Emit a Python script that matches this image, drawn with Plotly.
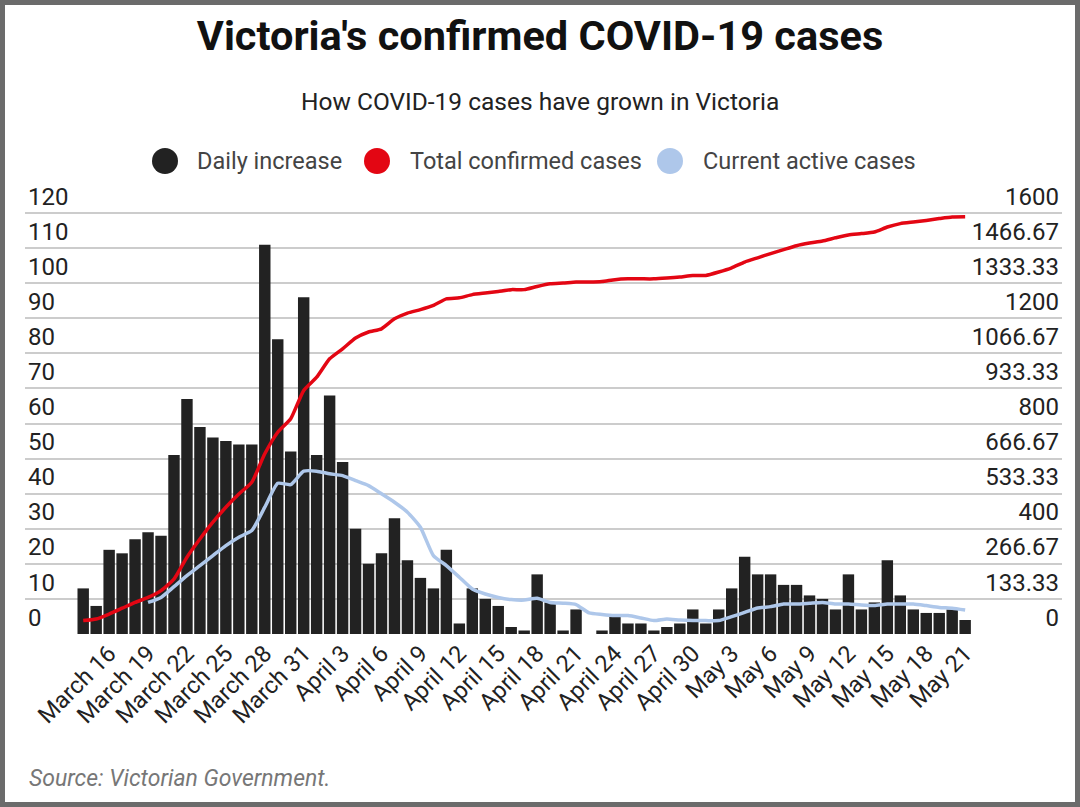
import pandas as pd
import plotly.graph_objects as go

# ---------------- data ----------------
dates = [d.strftime("%B ") + str(d.day) for d in pd.date_range("2020-03-14", "2020-05-21", freq="D")]

daily_increase = [13, 8, 24, 23, 27, 29, 28, 51, 67, 59, 56, 55, 54, 54, 111, 84, 52, 96, 51, 68, 49, 30,
                  20, 23, 33, 21, 16, 13, 24, 3, 13, 10, 8, 2, 1, 17, 9, 1, 7, 0, 1, 5, 3, 3, 1,
                  2, 3, 7, 3, 7, 13, 22, 17, 17, 14, 14, 11, 10, 7, 17, 7, 9, 21, 11, 7, 6, 6, 7, 4]

total_confirmed = [51, 57, 76, 98, 120, 139, 165, 209, 292, 361, 425, 482, 532, 577, 685, 767, 818, 926, 976, 1046, 1084, 1125,
                   1148, 1160, 1198, 1220, 1233, 1249, 1274, 1278, 1290, 1296, 1302, 1309, 1309, 1321, 1331, 1334, 1338, 1338, 1340, 1347, 1350, 1350, 1350,
                   1353, 1357, 1363, 1363, 1376, 1392, 1414, 1430, 1446, 1461, 1476, 1486, 1494, 1506, 1517, 1522, 1528, 1547, 1560, 1566, 1572, 1579, 1585, 1586]

active_cases = [None, None, None, None, None,
                120, 139, 180, 222, 260, 298, 336, 368, 393, 482, 573, 568, 619, 619, 609, 602, 583,
                564, 533, 501, 463, 406, 298, 260, 216, 171, 152, 139, 131, 129, 136, 120, 117, 112, 80, 74, 70, 70, 61, 51,
                57, 53, 51, 51, 51, 66, 82, 99, 104, 114, 114, 117, 120, 114, 114, 110, 108, 114, 114, 114, 108, 101, 98, 91]

tick_dates = dates[2::3]
left_ticks = list(range(0, 121, 10))
right_tickvals = [i * 1600 / 12 for i in range(13)]
right_ticktext = ["0", "133.33", "266.67", "400", "533.33", "666.67", "800", "933.33",
                  "1066.67", "1200", "1333.33", "1466.67", "1600"]

series_names = ["Daily increase", "Total confirmed cases", "Current active cases"]
series_colors = ["#222222", "#e30613", "#aec7ea"]

# ---------------- layout geometry ----------------
W, H = 1080, 807
BASE_Y = 634            # pixel row of the zero line
TOP120_Y = 213          # pixel row of the 120 gridline
Y_MAX = 130             # axis headroom so the top tick label stays visible
px_per_unit = (BASE_Y - TOP120_Y) / 120
ML, MR = 25, 18
MB = H - BASE_Y
MT = round(BASE_Y - Y_MAX * px_per_unit)
PW, PH = W - ML - MR, H - MT - MB


def px_x(x):
    return (x - ML) / PW


def px_y(y):
    return (H - MB - y) / PH


FONT = "Roboto, Arial, sans-serif"

fig = go.Figure()
fig.add_trace(go.Bar(x=dates, y=daily_increase, name=series_names[0],
                     marker=dict(color=series_colors[0], line=dict(width=0)),
                     showlegend=False, yaxis="y"))
fig.add_trace(go.Scatter(x=dates, y=active_cases, name=series_names[2], mode="lines",
                         line=dict(color=series_colors[2], width=3.5, shape="spline", smoothing=0.5),
                         showlegend=False, yaxis="y2"))
fig.add_trace(go.Scatter(x=dates, y=total_confirmed, name=series_names[1], mode="lines",
                         line=dict(color=series_colors[1], width=3.5, shape="spline", smoothing=0.5),
                         showlegend=False, yaxis="y2"))

shapes = []
annotations = []
# manual legend
legend_cx = [165, 377, 670]
legend_tx = [195, 408, 701]
legend_y = 161
for name, col, cx, tx in zip(series_names, series_colors, legend_cx, legend_tx):
    shapes.append(dict(type="circle", xref="paper", yref="paper", xsizemode="pixel", ysizemode="pixel",
                       xanchor=px_x(cx), yanchor=px_y(legend_y), x0=-13, x1=13, y0=-13, y1=13,
                       fillcolor=col, line=dict(width=0)))
    annotations.append(dict(text=name, xref="paper", yref="paper", x=px_x(tx), y=px_y(legend_y),
                            xanchor="left", yanchor="middle", showarrow=False,
                            font=dict(family=FONT, size=23.5, color="#444444")))

# subtitle
annotations.append(dict(text="How COVID-19 cases have grown in Victoria", xref="paper", yref="paper",
                        x=px_x(540), y=px_y(102), xanchor="center", yanchor="middle", showarrow=False,
                        font=dict(family=FONT, size=24.5, color="#222222")))
# source
annotations.append(dict(text="<i>Source: Victorian Government.</i>", xref="paper", yref="paper",
                        x=px_x(27), y=px_y(778), xanchor="left", yanchor="middle", showarrow=False,
                        font=dict(family=FONT, size=23, color="#777777")))
# frame
shapes.append(dict(type="rect", xref="paper", yref="paper",
                   x0=px_x(2.5), x1=px_x(W - 2.5), y0=px_y(H - 2.5), y1=px_y(2.5),
                   line=dict(color="#6b6b6b", width=5), fillcolor="rgba(0,0,0,0)", layer="above"))

pitch = 12.97
first_center = 83.2
x_left = -(first_center - ML) / pitch
x_right = (W - MR - first_center) / pitch

fig.update_layout(
    width=W, height=H,
    margin=dict(l=ML, r=MR, t=MT, b=MB, pad=0),
    paper_bgcolor="white", plot_bgcolor="white",
    title=dict(text="Victoria's confirmed COVID-19 cases", x=0.5, xref="container", xanchor="center",
               y=1 - 35 / H, yref="container", yanchor="middle",
               font=dict(family=FONT, size=41.5, color="#111111", weight="bold")),
    bargap=0.12,
    showlegend=False,
    xaxis=dict(type="category", range=[x_left, x_right], tickmode="array", tickvals=tick_dates,
               ticktext=tick_dates, tickangle=-45, showgrid=False, showline=False, zeroline=False,
               ticks="", tickfont=dict(family=FONT, size=23.5, color="#222222")),
    yaxis=dict(range=[0, Y_MAX], tickmode="array", tickvals=left_ticks, showgrid=True,
               gridcolor="#cccccc", gridwidth=1.5, zeroline=False, showline=False, ticks="",
               ticklabelposition="inside top", tickfont=dict(family=FONT, size=24, color="#222222")),
    yaxis2=dict(range=[0, Y_MAX * 1600 / 120], overlaying="y", side="right", tickmode="array",
                tickvals=right_tickvals, ticktext=right_ticktext, showgrid=False, zeroline=False,
                showline=False, ticks="", ticklabelposition="inside top",
                tickfont=dict(family=FONT, size=24, color="#222222")),
    shapes=shapes,
    annotations=annotations,
)

fig.write_html("out.html", config={"displayModeBar": False},
               post_script="document.body.style.margin='0';")
